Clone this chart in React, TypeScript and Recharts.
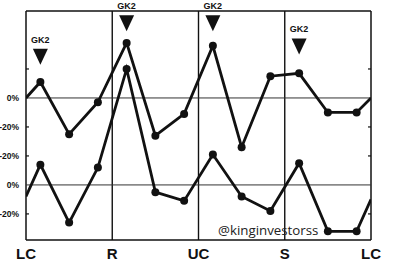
import React from 'react';
import { LineChart, Line, XAxis, YAxis, ReferenceLine, ReferenceDot } from 'recharts';

// ---- data ----
const cyclePhase = [0, 0.5, 1.5, 2.5, 3.5, 4.5, 5.5, 6.5, 7.5, 8.5, 9.5, 10.5, 11.5, 12];
const upperValues = [0, 11, -25, -3, 38, -26, -11, 36, -34, 15, 17, -10, -10, 0];
const lowerValues = [-8, 14, -26, 12, 80, -5, -11, 21, -8, -18, 15, -32, -32, -10];
const cycleTicks = [0, 3, 6, 9, 12];
const cycleLabels = ['LC', 'R', 'UC', 'S', 'LC'];
const signalPhase = [0.5, 3.5, 6.5, 9.5];
const signalLevel = [23, 46, 46, 30];
const signalText = ['GK2', 'GK2', 'GK2', 'GK2'];
const upperTicks = [20, 0, -20];
const upperTickLabels = ['', '0%', '-20%'];
const lowerTicks = [20, 0, -20];
const lowerTickLabels = ['-20%', '0%', '-20%'];
const UPPER_DOMAIN = [-98, 60];
const LOWER_DOMAIN = [-38, 120];
const PHASE_DOMAIN = [0, 12];
const WATERMARK = '@kinginvestorss';

const upperData = cyclePhase.map((p, i) => ({ phase: p, value: upperValues[i] }));
const lowerData = cyclePhase.map((p, i) => ({ phase: p, value: lowerValues[i] }));

// ---- styles ----
const INK = '#111';
const W = 393;
const H = 270;
const FONT = '"Liberation Sans", Arial, sans-serif';

const renderDot = (last: number) => (props: any) => {
  const { cx, cy, index } = props;
  if (index === 0 || index === last) return <g key={`d${index}`} />;
  return <circle key={`d${index}`} cx={cx} cy={cy} r={4} fill={INK} stroke="none" />;
};

const leftTick = (ticks: number[], labels: string[]) => (props: any) => {
  const { x, y, payload } = props;
  const i = ticks.indexOf(payload.value);
  return (
    <g>
      {payload.value !== 0 && (
        <line x1={x} x2={x + 3} y1={y} y2={y} stroke={INK} strokeWidth={1.2} />
      )}
      <text x={x - 7} y={y} dy={3} textAnchor="end" fontSize={8.5} fontWeight="bold" fontFamily={FONT} fill={INK}>
        {labels[i]}
      </text>
    </g>
  );
};

const rightTick = (props: any) => {
  const { x, y, payload } = props;
  if (payload.value === 0) return <g />;
  return <line x1={x - 3} x2={x} y1={y} y2={y} stroke={INK} strokeWidth={1.2} />;
};

const xTick = (props: any) => {
  const { x, y, payload } = props;
  const i = cycleTicks.indexOf(payload.value);
  return (
    <text x={x} y={y + 19} textAnchor="middle" fontSize={15} fontWeight="bold" fontFamily={FONT} fill={INK}>
      {cycleLabels[i]}
    </text>
  );
};

const signalShape = (label: string) => (props: any) => {
  const { cx, cy } = props;
  return (
    <g>
      <path d={`M${cx - 7.5},${cy - 16} L${cx + 7.5},${cy - 16} L${cx},${cy} Z`} fill={INK} />
      <text x={cx} y={cy - 22} textAnchor="middle" fontSize={9} fontWeight="bold" fontFamily={FONT} fill={INK}>
        {label}
      </text>
    </g>
  );
};

const frame = { stroke: INK, strokeWidth: 1.5 };

export default function App() {
  return (
    <div style={{ position: 'absolute', left: 0, top: 0, width: W, height: H, background: '#fff' }}>
      <div style={{ position: 'absolute', left: 0, top: 0 }}>
        <LineChart width={W} height={H} data={upperData} margin={{ top: 11, right: 0, bottom: 0, left: 0 }}>
          <XAxis
            dataKey="phase"
            type="number"
            domain={PHASE_DOMAIN}
            ticks={cycleTicks}
            interval={0}
            height={30}
            axisLine={frame}
            tickLine={false}
            tickSize={0}
            tickMargin={0}
            tick={xTick}
            allowDataOverflow
          />
          <YAxis
            yAxisId="l"
            orientation="left"
            type="number"
            width={26}
            domain={UPPER_DOMAIN}
            ticks={upperTicks}
            interval={0}
            axisLine={frame}
            tickLine={false}
            tickSize={0}
            tickMargin={0}
            tick={leftTick(upperTicks, upperTickLabels)}
            allowDataOverflow
          />
          <YAxis
            yAxisId="r"
            orientation="right"
            type="number"
            width={22}
            domain={UPPER_DOMAIN}
            ticks={upperTicks}
            interval={0}
            axisLine={frame}
            tickLine={false}
            tickSize={0}
            tickMargin={0}
            tick={rightTick}
            allowDataOverflow
          />
          <ReferenceLine yAxisId="l" y={UPPER_DOMAIN[1]} stroke={INK} strokeWidth={1.5} />
          {cycleTicks.slice(1, -1).map((t) => (
            <ReferenceLine key={`v${t}`} yAxisId="l" x={t} stroke={INK} strokeWidth={1.4} />
          ))}
          <ReferenceLine yAxisId="l" y={0} stroke="#333" strokeWidth={1} />
          <Line
            yAxisId="l"
            dataKey="value"
            stroke={INK}
            strokeWidth={2.8}
            dot={renderDot(upperData.length - 1)}
            activeDot={false}
            isAnimationActive={false}
          />
          {signalPhase.map((p, i) => (
            <ReferenceDot
              key={`s${i}`}
              yAxisId="l"
              x={p}
              y={signalLevel[i]}
              shape={signalShape(signalText[i])}
            />
          ))}
        </LineChart>
      </div>
      <div style={{ position: 'absolute', left: 0, top: 0 }}>
        <LineChart width={W} height={H} data={lowerData} margin={{ top: 11, right: 0, bottom: 30, left: 0 }}>
          <XAxis dataKey="phase" type="number" domain={PHASE_DOMAIN} hide allowDataOverflow />
          <YAxis
            yAxisId="l"
            orientation="left"
            type="number"
            width={26}
            domain={LOWER_DOMAIN}
            ticks={lowerTicks}
            interval={0}
            axisLine={false}
            tickLine={false}
            tickSize={0}
            tickMargin={0}
            tick={leftTick(lowerTicks, lowerTickLabels)}
            allowDataOverflow
          />
          <YAxis
            yAxisId="r"
            orientation="right"
            type="number"
            width={22}
            domain={LOWER_DOMAIN}
            ticks={lowerTicks}
            interval={0}
            axisLine={false}
            tickLine={false}
            tickSize={0}
            tickMargin={0}
            tick={rightTick}
            allowDataOverflow
          />
          <ReferenceLine yAxisId="l" y={0} stroke="#333" strokeWidth={1} />
          <Line
            yAxisId="l"
            dataKey="value"
            stroke={INK}
            strokeWidth={2.8}
            dot={renderDot(lowerData.length - 1)}
            activeDot={false}
            isAnimationActive={false}
          />
        </LineChart>
      </div>
      <div
        style={{
          position: 'absolute',
          left: 218,
          top: 223.5,
          fontFamily: '"Open Sans", sans-serif',
          fontSize: 13.3,
          lineHeight: '13px',
          color: '#222',
          whiteSpace: 'nowrap',
        }}
      >
        {WATERMARK}
      </div>
    </div>
  );
}
